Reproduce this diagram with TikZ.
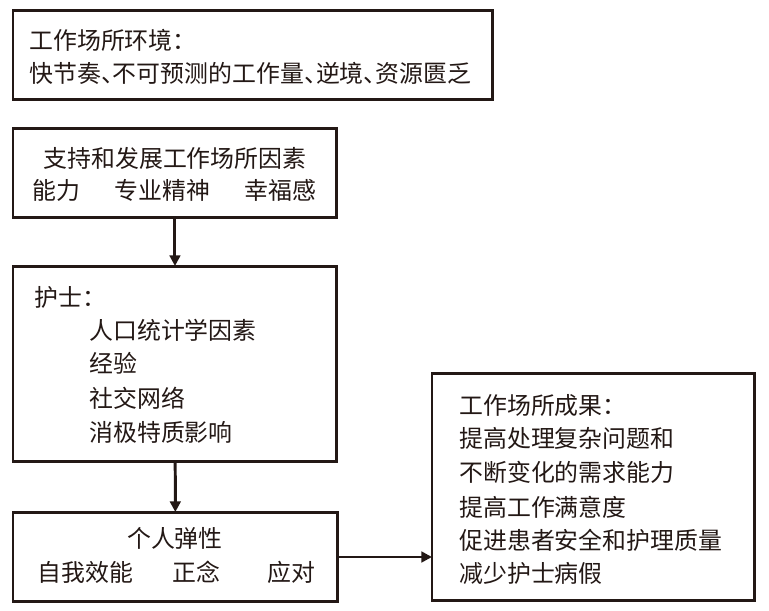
\documentclass[tikz,border=0pt]{standalone}
\usepackage{fontspec}
\setmainfont{Noto Sans CJK SC}
\usetikzlibrary{arrows.meta, positioning}
\definecolor{ink}{RGB}{35,24,21}
\newcommand{\dunhao}{、\kern-.5em}

\begin{document}
\begin{tikzpicture}[x=0.02cm, y=-0.02cm,
        every node/.style={font=\fontsize{13.6}{16}\selectfont, text=ink},
        every edge/.style={-{Triangle[length=6pt,width=6pt]},draw=ink,line width=1.7pt},
        box/.style={draw=ink,line width=1.7pt,anchor=north west,inner sep=0pt,outer sep=0pt},
        txt/.style={anchor=base west,inner sep=0pt},
        mid/.style={anchor=base,inner sep=0pt},]

        \useasboundingbox (0,0) rectangle (769,610);

        % boxes
        \node[box, minimum width=9.6cm, minimum height=1.8cm] (env) at (13,10) {};
        \node[box, minimum width=6.48cm, minimum height=1.8cm] (sup) at (13,128) {};
        \node[box, minimum width=6.48cm, minimum height=3.92cm] (nurse) at (13,266) {};
        \node[box, minimum width=6.5cm, minimum height=1.8cm] (res) at (13,512) {};
        \node[box, minimum width=6.46cm, minimum height=4.56cm] (out) at (432,373) {};

        % environment
        \node[txt] (env_t) at (29,49) {工作场所环境：};
        \node[txt] (env_l) at (29,82) {快节奏\dunhao 不可预测的工作量\dunhao 逆境\dunhao 资源匮乏};

        % support
        \node[mid] (sup_t) at (175,167) {支持和发展工作场所因素};
        \node[txt] (sup_a) at (32,199) {能力};
        \node[txt] (sup_b) at (114,199) {专业精神};
        \node[txt] (sup_c) at (244,199) {幸福感};

        % nurse
        \node[txt] (nurse_t) at (34,306) {护士：};
        \node[txt] (demo) at (89,339) {人口统计学因素};
        \node[txt] (exper) at (89,372) {经验};
        \node[txt] (social) at (89,407) {社交网络};
        \node[txt] (neg) at (89,441) {消极特质影响};

        % resilience
        \node[mid] (res_t) at (175,547) {个人弹性};
        \node[txt] (res_a) at (37,581) {自我效能};
        \node[txt] (res_b) at (172,581) {正念};
        \node[txt] (res_c) at (267,581) {应对};

        % outcomes
        \node[txt] (out_t) at (459,414) {工作场所成果：};
        \node[txt] (out_a) at (459,447) {提高处理复杂问题和};
        \node[txt] (out_b) at (459,481) {不断变化的需求能力};
        \node[txt] (out_c) at (459,516) {提高工作满意度};
        \node[txt] (out_d) at (459,549) {促进患者安全和护理质量};
        \node[txt] (out_e) at (459,582) {减少护士病假};

        \path (sup) edge (nurse);
        \path (nurse) edge (res);
        \path (res.east) edge (res.east -| out.west);

    \end{tikzpicture}
\end{document}
